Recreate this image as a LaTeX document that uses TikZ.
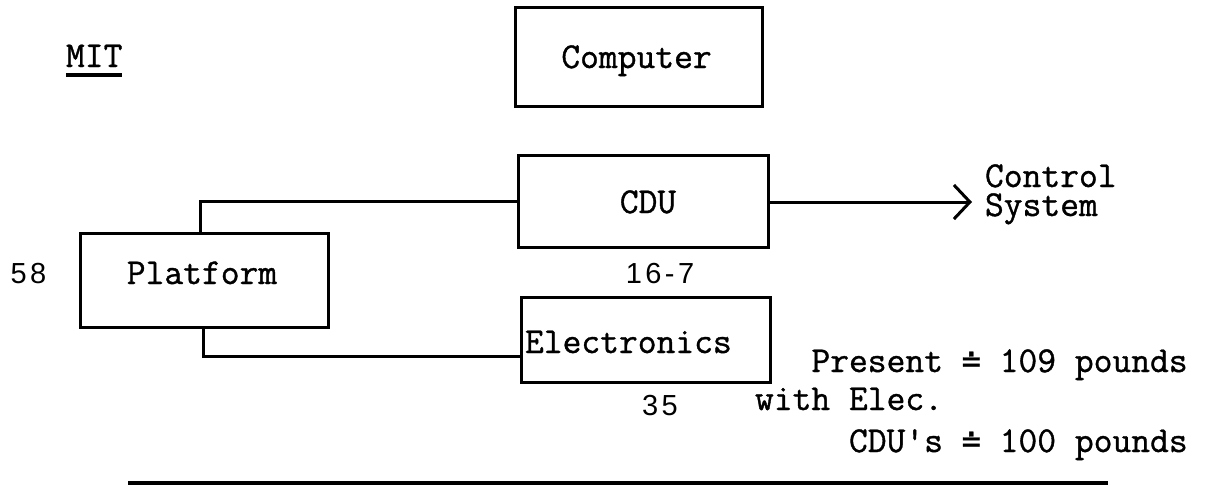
\documentclass[tikz,border=0pt]{standalone}
\usepackage{fontspec}
\newfontfamily\hwfont[LetterSpace=12]{Liberation Sans}
\newfontfamily\twfont[FakeBold=1]{Latin Modern Mono}
\newfontfamily\symfont[FakeBold=1]{DejaVu Sans Mono}
\usetikzlibrary{arrows.meta}
\newcommand\approxdot{{\symfont\fontsize{31.8}{40}\selectfont ≐}}
\begin{document}
\begin{tikzpicture}[x=1pt,y=-1pt,
  box/.style={draw, line width=3pt, inner sep=0pt, outer sep=0pt, rectangle, line join=miter},
  tw/.style={font=\twfont\fontsize{36.5}{40}\selectfont, inner sep=0pt, outer sep=0pt},
  hw/.style={font=\hwfont\fontsize{29}{32}\selectfont, inner sep=0pt, outer sep=0pt},
  wire/.style={line width=3pt}]
\useasboundingbox (0,0) rectangle (1207,487);
\fill[white] (0,0) rectangle (1207,487);

% boxes
\node[box, minimum width=247pt, minimum height=98pt] (comp) at (638.5,57) {};
\node[box, minimum width=250pt, minimum height=92pt] (cdu) at (643,201) {};
\node[box, minimum width=248pt, minimum height=94pt] (plat) at (204,280) {};
\node[box, minimum width=249pt, minimum height=85pt] (elec) at (645.5,339.5) {};

% box texts
\node[tw, anchor=base] (tcomp) at (636.5,68) {Computer};
\node[tw, anchor=base] (tcdu) at (648,213) {CDU};
\node[tw, anchor=base] (tplat) at (202,284) {Platform};
\node[tw, anchor=base west] (telec) at (525,353) {Electronics};

% MIT
\node[tw, anchor=base west] (mit) at (66,67) {MIT};
\draw[line width=3pt] ([yshift=-8pt]mit.base west) -- ([yshift=-8pt]mit.base east);

% numbers
\node[hw, anchor=base] (n58) at (28.5,283) {58};
\node[hw, anchor=base] (n167) at (660,283) {16-7};
\node[hw, anchor=base] (n35) at (660,415) {35};

% connectors
\draw[wire] ([xshift=-4pt]plat.north) |- (cdu.west);
\draw[wire] ([xshift=-1pt]plat.south) |- ([yshift=-17pt]elec.west);
\coordinate (ctrl) at (972,202);
\draw[wire, -{Straight Barb[length=16pt,width=34pt,line width=3pt]}] (cdu.east |- ctrl) -- (ctrl);

% Control System
\node[tw, anchor=base west, align=left, font=\twfont\fontsize{36.5}{29}\selectfont] (ctrltxt) at (985,216) {Control\\System};

% weights
\node[tw, anchor=base west, align=left, font=\twfont\fontsize{36.5}{40}\selectfont] (weights) at (755,452)
  {\phantom{xxx}Present \approxdot{} 109 pounds\\[-2pt]with Elec.\\[2pt]\phantom{xxxxx}CDU's \approxdot{} 100 pounds};

% bottom rule
\draw[line width=3.5pt] (128,483) -- (1108,483);
\end{tikzpicture}
\end{document}
